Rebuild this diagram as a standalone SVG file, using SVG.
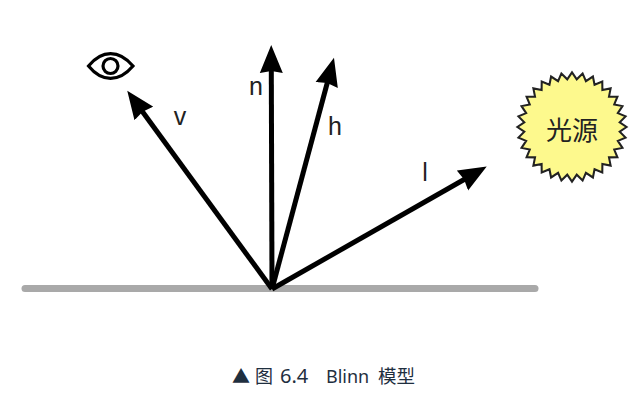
<svg xmlns="http://www.w3.org/2000/svg" width="642" height="401" viewBox="0 0 642 401">
<style>
.lbl{font-family:"Liberation Sans",Arial,sans-serif;font-size:25px;fill:#222;text-anchor:middle}
.arrow{stroke:#000;stroke-width:5;fill:none;marker-end:url(#head)}
.eye{fill:none;stroke:#000;stroke-width:3.200}
</style>
<defs>
<marker id="head" markerUnits="userSpaceOnUse" markerWidth="30" markerHeight="24" viewBox="0 0 30 24" refX="3" refY="12" orient="auto">
<polygon points="0,0.500 28,12 0,23.500 2,12" fill="#000"/>
</marker>
</defs>
<rect width="642" height="401" fill="#fff"/>
<g id="ground"><line x1="25" y1="288.500" x2="535" y2="288.500" stroke="#a9a9a9" stroke-width="7" stroke-linecap="round"/></g>
<g id="connectors">
<line class="arrow" x1="272" y1="289" x2="142" y2="111"/>
<line class="arrow" x1="272" y1="289" x2="271.300" y2="70"/>
<line class="arrow" x1="272" y1="289" x2="327.500" y2="82"/>
<line class="arrow" x1="272" y1="289" x2="465" y2="179"/>
</g>
<g id="eye">
<path class="eye" d="M88.500 66C102 49.500 119 49.500 133 66C119 82.500 102 82.500 88.500 66Z"/>
<circle class="eye" cx="110.500" cy="66" r="7.500"/>
</g>
<g id="label-v"><text class="lbl" x="180" y="125">v</text></g>
<g id="label-n"><text class="lbl" x="256" y="95">n</text></g>
<g id="label-h"><text class="lbl" x="335" y="135">h</text></g>
<g id="label-l"><text class="lbl" x="425" y="181">l</text></g>
<g id="light">
<polygon transform="translate(572,127) scale(1.030)" fill="#fdf98d" stroke="#222" stroke-width="2" stroke-linejoin="miter" points="53,0 46.300,4.600 52,10.300 44.500,13.500 49,20.300 41,21.900 44.100,29.400 35.900,29.500 37.500,37.500 29.500,35.900 29.400,44.100 21.900,41 20.300,49 13.500,44.500 10.300,52 4.600,46.300 0,53 -4.600,46.300 -10.300,52 -13.500,44.500 -20.300,49 -21.900,41 -29.400,44.100 -29.500,35.900 -37.500,37.500 -35.900,29.500 -44.100,29.400 -41,21.900 -49,20.300 -44.500,13.500 -52,10.300 -46.300,4.600 -53,0 -46.300,-4.600 -52,-10.300 -44.500,-13.500 -49,-20.300 -41,-21.900 -44.100,-29.400 -35.900,-29.500 -37.500,-37.500 -29.500,-35.900 -29.400,-44.100 -21.900,-41 -20.300,-49 -13.500,-44.500 -10.300,-52 -4.600,-46.300 0,-53 4.600,-46.300 10.300,-52 13.500,-44.500 20.300,-49 21.900,-41 29.400,-44.100 29.500,-35.900 37.500,-37.500 35.900,-29.500 44.100,-29.400 41,-21.900 49,-20.300 44.500,-13.500 52,-10.300 46.300,-4.600"/>
<text x="572" y="140" font-family="'Noto Sans CJK SC',sans-serif" font-size="26" fill="#222" text-anchor="middle">光源</text>
</g>
<g id="caption"><text y="383" font-family="'Noto Sans CJK SC',sans-serif" font-size="18" fill="#1f2f3f" xml:space="preserve"><tspan x="232">▲ </tspan><tspan x="255">图 </tspan><tspan x="280" font-size="20" font-family="'Noto Sans',sans-serif">6.4 </tspan><tspan x="326" font-family="'Noto Sans',sans-serif">Blinn </tspan><tspan x="378" font-size="18.500">模型</tspan></text></g>
</svg>
